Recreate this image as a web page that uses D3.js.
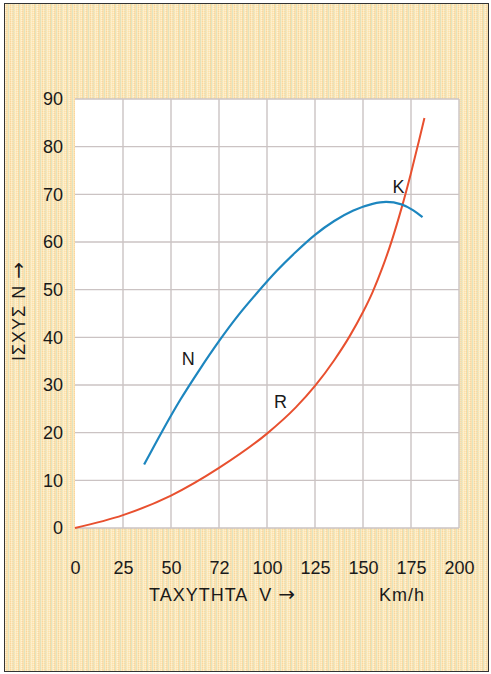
<!DOCTYPE html>
<html>
<head>
<meta charset="utf-8">
<script src="https://cdn.jsdelivr.net/npm/d3@7"></script>
<style>
  html, body { margin: 0; padding: 0; background: #ffffff; }
  svg { display: block; }
  text { font-family: "Liberation Sans", Arial, sans-serif; fill: #1a1a1a; }
  .arrow { font-family: "DejaVu Sans", sans-serif; }
</style>
</head>
<body>
<svg id="chart" width="491" height="674"></svg>
<script>
// Speed axis ticks (km/h) and the labels printed under them
const speedTicks = [0, 25, 50, 75, 100, 125, 150, 175, 200];
const speedTickLabels = ["0", "25", "50", "72", "100", "125", "150", "175", "200"];
// Power axis ticks
const powerTicks = [0, 10, 20, 30, 40, 50, 60, 70, 80, 90];

// Engine power curve N: [speed, power]
const curveN = [
  [36, 13.3], [45, 20.0], [55, 27.0], [65, 33.3], [75, 39.2], [85, 44.6],
  [95, 49.4], [105, 53.9], [115, 57.9], [125, 61.5], [135, 64.4], [145, 66.6],
  [155, 68.0], [162, 68.4], [170, 67.9], [176, 66.7], [181, 65.2]
];
// Resistance power curve R: [speed, power]
const curveR = [
  [0, 0], [25, 2.7], [50, 6.8], [75, 12.6], [100, 19.8], [115, 25.3],
  [125, 29.8], [135, 35.2], [143, 40.2], [150, 45.3], [155, 49.5], [160, 54.5],
  [165, 60.3], [170, 67.0], [175, 74.5], [179, 81.0], [182, 86.0]
];
// Curve name labels: [name, speed, power]
const curveLabels = [["N", 59, 35.5], ["R", 107, 26.5], ["K", 168.5, 71.5]];

const FS = 18;
const svg = d3.select("#chart");

// Striped paper background
const stripeColors = ["#fde2a9", "#fef1cf", "#f9d79c", "#e0e4c3", "#fde9ba", "#fff3d6",
                      "#f8d8a2", "#fbe3b0", "#dfe2c1", "#fdebc2", "#fad69b", "#fef0cc",
                      "#f6dcaa", "#e5e4c2", "#fde6b4", "#fdf0d0"];
const defs = svg.append("defs");
const pat = defs.append("pattern")
  .attr("id", "paper").attr("patternUnits", "userSpaceOnUse")
  .attr("width", stripeColors.length).attr("height", 2);
stripeColors.forEach((c, i) => {
  pat.append("rect").attr("x", i).attr("y", 0).attr("width", 1).attr("height", 2).attr("fill", c);
  pat.append("rect").attr("x", i).attr("y", (i % 2)).attr("width", 1).attr("height", 1)
    .attr("fill", stripeColors[(i + 5) % stripeColors.length]).attr("opacity", 0.45);
});

svg.append("rect").attr("x", 0).attr("y", 0).attr("width", 491).attr("height", 674).attr("fill", "#ffffff");
svg.append("rect").attr("x", 4.5).attr("y", 3.5).attr("width", 484).attr("height", 668)
  .attr("fill", "url(#paper)").attr("stroke", "#333333").attr("stroke-width", 1);

// Scales
const x = d3.scaleLinear().domain([0, 200]).range([75, 459]);
const y = d3.scaleLinear().domain([0, 90]).range([528, 99]);

// Plot area
svg.append("rect")
  .attr("x", x(0)).attr("y", y(90))
  .attr("width", x(200) - x(0)).attr("height", y(0) - y(90))
  .attr("fill", "#ffffff");

// Grid
const grid = svg.append("g").attr("stroke", "#cbc3c3").attr("stroke-width", 1.4);
grid.selectAll("line.v").data(speedTicks.slice(1)).join("line")
  .attr("x1", d => x(d)).attr("x2", d => x(d))
  .attr("y1", y(0)).attr("y2", y(90));
grid.selectAll("line.h").data(powerTicks).join("line")
  .attr("x1", x(0)).attr("x2", x(200))
  .attr("y1", d => y(d)).attr("y2", d => y(d));

// Axes (labels only)
const xAxis = d3.axisBottom(x).tickValues(speedTicks)
  .tickFormat((d, i) => speedTickLabels[i]).tickSize(0).tickPadding(0);
const gx = svg.append("g").attr("transform", `translate(0,${y(0) + 40})`).call(xAxis);
gx.select(".domain").remove();
gx.selectAll("text").attr("font-size", FS).attr("fill", "#1a1a1a")
  .attr("font-family", "Liberation Sans, Arial, sans-serif").attr("dy", "0.35em");

const yAxis = d3.axisLeft(y).tickValues(powerTicks).tickSize(0).tickPadding(0);
const gy = svg.append("g").attr("transform", `translate(63,0)`).call(yAxis);
gy.select(".domain").remove();
gy.selectAll("text").attr("font-size", FS).attr("fill", "#1a1a1a")
  .attr("font-family", "Liberation Sans, Arial, sans-serif");

// Axis titles
const xt = svg.append("text").attr("x", 149).attr("y", 601).attr("font-size", FS)
  .attr("letter-spacing", 1).attr("xml:space", "preserve");
xt.append("tspan").text("ΤΑΧΥΤΗΤΑ  V ");
xt.append("tspan").attr("class", "arrow").attr("font-size", 20).text("→");
svg.append("text").attr("x", 379).attr("y", 601).attr("font-size", FS)
  .attr("letter-spacing", 1).text("Km/h");
const yt = svg.append("text").attr("transform", "translate(25,311) rotate(-90)")
  .attr("text-anchor", "middle").attr("font-size", FS).attr("letter-spacing", 1);
yt.append("tspan").text("ΙΣΧΥΣ Ν ");
yt.append("tspan").attr("class", "arrow").attr("font-size", 20).text("→");

// Curves
const line = d3.line().x(d => x(d[0])).y(d => y(d[1])).curve(d3.curveMonotoneX);
svg.append("path").datum(curveR).attr("d", line)
  .attr("fill", "none").attr("stroke", "#e8502f").attr("stroke-width", 2);
svg.append("path").datum(curveN).attr("d", line)
  .attr("fill", "none").attr("stroke", "#1d86bf").attr("stroke-width", 2.2);

// Curve names
svg.selectAll("text.cl").data(curveLabels).join("text")
  .attr("class", "cl")
  .attr("x", d => x(d[1])).attr("y", d => y(d[2]))
  .attr("text-anchor", "middle").attr("dy", "0.35em")
  .attr("font-size", FS).text(d => d[0]);
</script>
</body>
</html>
